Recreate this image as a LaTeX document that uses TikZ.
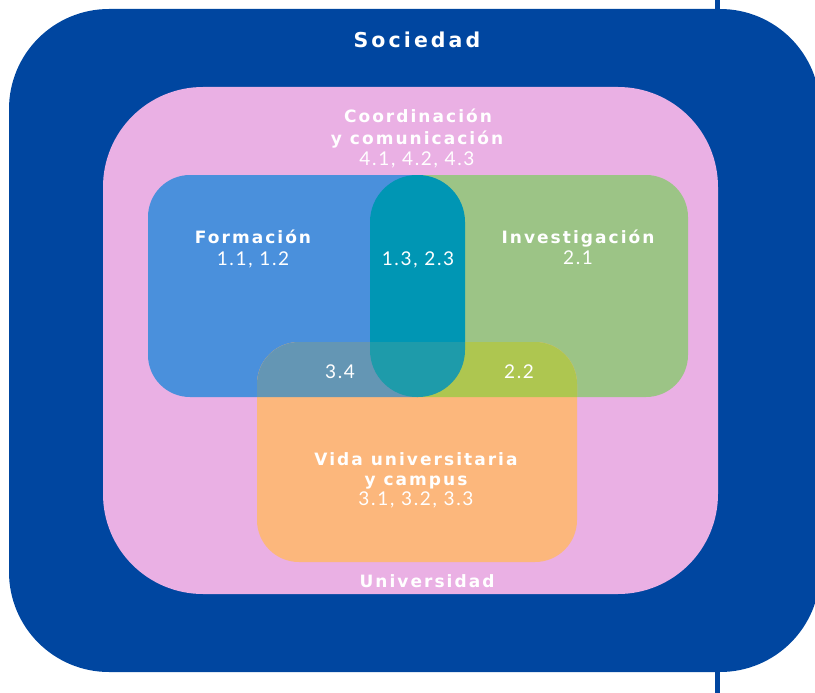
\documentclass[tikz,border=0pt]{standalone}
\usepackage{fontspec}
\setmainfont{Lato}
\newfontfamily\hdfont[LetterSpace=12]{DejaVu Sans}
\newfontfamily\hdbigfont[LetterSpace=15]{DejaVu Sans}
\newfontfamily\numfont[LetterSpace=9]{Lato}
\definecolor{dblue}{RGB}{0,70,160}
\definecolor{cpink}{RGB}{234,176,228}
\definecolor{cblue}{RGB}{74,144,220}
\definecolor{cgreen}{RGB}{156,196,134}
\definecolor{cteal}{RGB}{0,150,180}
\definecolor{corange}{RGB}{252,183,124}
\definecolor{cblueor}{RGB}{100,150,180}
\definecolor{cgreenor}{RGB}{174,198,80}
\definecolor{ctealor}{RGB}{30,155,170}
\begin{document}
\begin{tikzpicture}[x=1pt,y=-1pt,
  hd/.style={text=white,font=\hdfont\bfseries\fontsize{17}{19}\selectfont,anchor=base,inner sep=0pt},
  hdbig/.style={hd,font=\hdbigfont\bfseries\fontsize{20.5}{24}\selectfont},
  num/.style={text=white,font=\numfont\fontsize{19}{21}\selectfont,anchor=base,inner sep=0pt}]
\useasboundingbox (0,0) rectangle (815,693);
\begin{scope}
\clip (0,0) rectangle (815,693);
\draw[dblue,line width=5pt] (717,0) -- (717,693);
\fill[dblue,rounded corners=100pt] (9,9) rectangle (820,672);
\fill[cpink,rounded corners=100pt] (103,87) rectangle (718,594);
% blue and green
\begin{scope}
\clip (0,0) rectangle (417,693);
\fill[cblue,rounded corners=42pt] (148,175) rectangle (500,397);
\end{scope}
\begin{scope}
\clip (417,0) rectangle (815,693);
\fill[cgreen,rounded corners=42pt] (330,175) rectangle (688,397);
\end{scope}
\fill[cteal,rounded corners=47pt] (370,175) rectangle (465,397);
% orange and overlaps
\fill[corange,rounded corners=42pt] (257,342) rectangle (577,562);
\begin{scope}
\clip[rounded corners=42pt] (257,342) rectangle (577,562);
\begin{scope}
\clip (0,0) rectangle (417,693);
\fill[cblueor,rounded corners=42pt] (148,175) rectangle (500,397);
\end{scope}
\begin{scope}
\clip (417,0) rectangle (815,693);
\fill[cgreenor,rounded corners=42pt] (330,175) rectangle (688,397);
\end{scope}
\fill[ctealor,rounded corners=47pt] (370,175) rectangle (465,397);
\end{scope}
\end{scope}
% texts
\node[hdbig] (soc) at (417,48) {Sociedad};
\node[hd] (coord1) at (418,122) {Coordinación};
\node[hd] (coord2) at (417,144) {y comunicación};
\node[num] (coord3) at (417,165) {4.1, 4.2, 4.3};
\node[hd] (form) at (253,243) {Formación};
\node[num] (formn) at (253,265) {1.1, 1.2};
\node[num] (ft) at (418,265) {1.3, 2.3};
\node[hd] (inv) at (578,243) {Investigación};
\node[num] (invn) at (578,264) {2.1};
\node[num] (vf) at (340,378) {3.4};
\node[num] (iv) at (519,378) {2.2};
\node[hd] (vida1) at (416,465) {Vida universitaria};
\node[hd] (vida2) at (416,485) {y campus};
\node[num] (vida3) at (416,505) {3.1, 3.2, 3.3};
\node[hd] (univ) at (427,587) {Universidad};
\end{tikzpicture}
\end{document}
